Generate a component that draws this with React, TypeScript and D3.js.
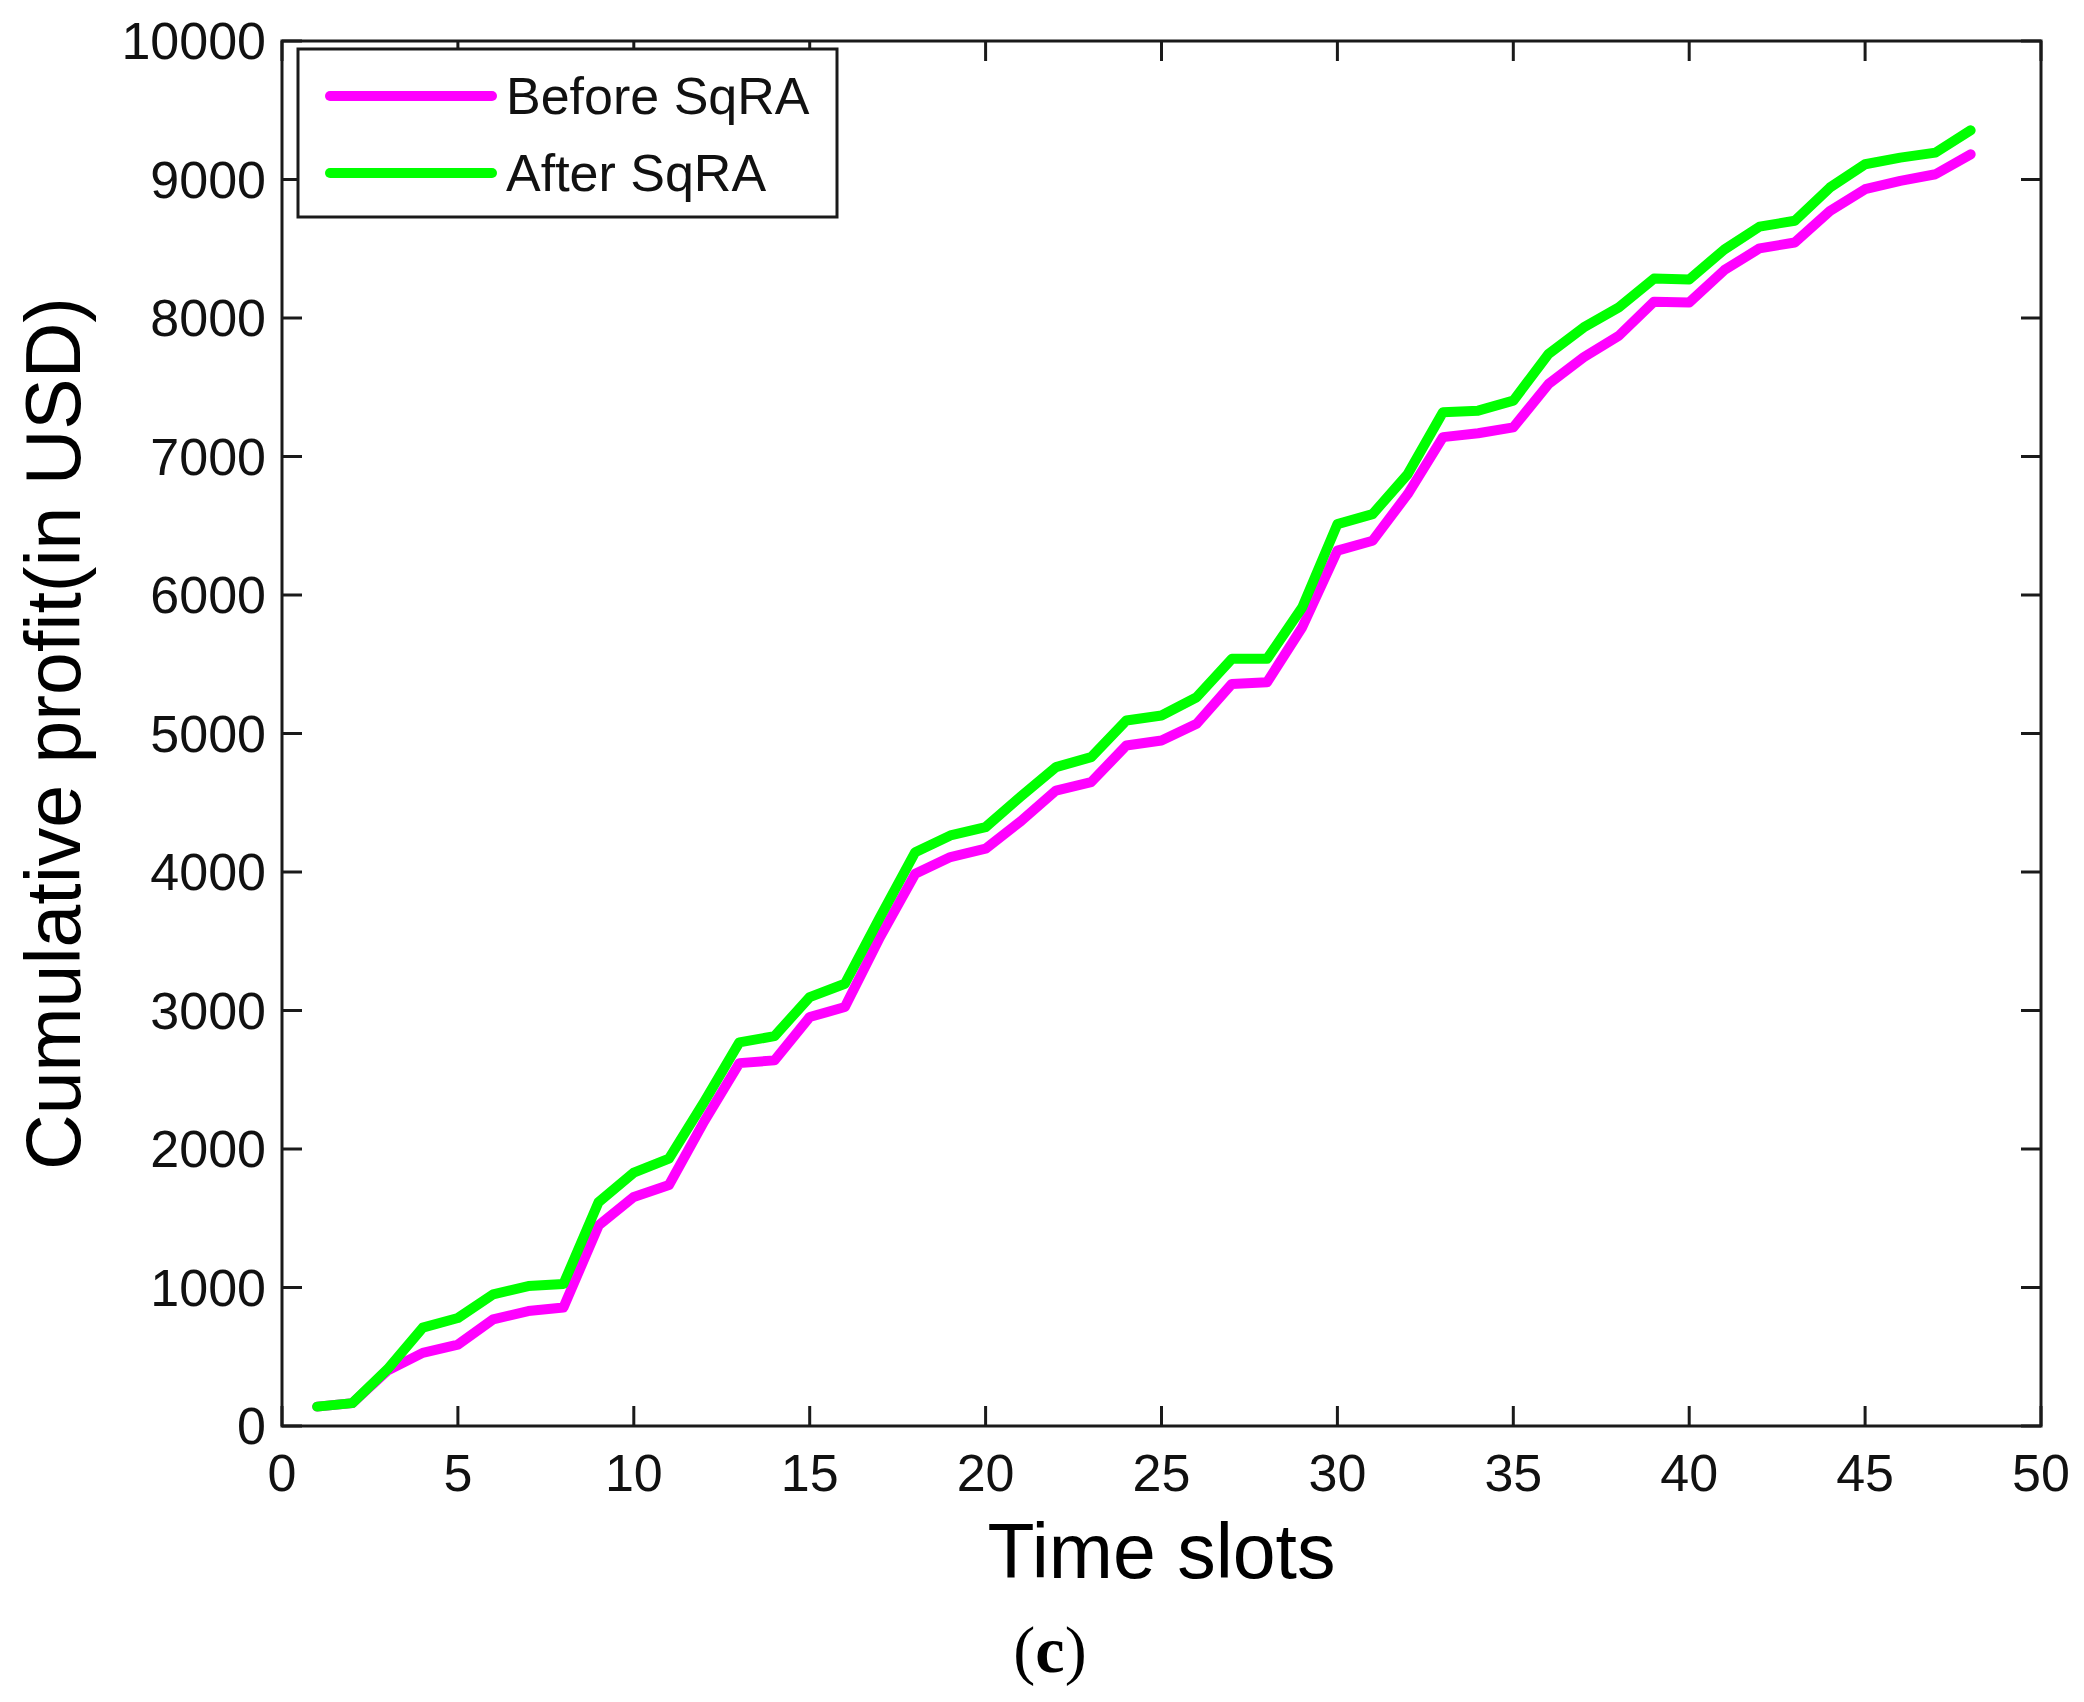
import React, { useEffect, useRef } from "react";
import * as d3 from "d3";

// time slots 1..48
const slots = [
  1, 2, 3, 4, 5, 6, 7, 8, 9, 10, 11, 12, 13, 14, 15, 16, 17, 18, 19, 20, 21, 22, 23, 24,
  25, 26, 27, 28, 29, 30, 31, 32, 33, 34, 35, 36, 37, 38, 39, 40, 41, 42, 43, 44, 45, 46, 47, 48,
];

const beforeSqRA = [
  140, 165, 400, 528, 588, 770, 830, 855, 1448, 1654, 1740, 2200, 2620, 2640, 2953, 3025,
  3530, 3987, 4108, 4168, 4366, 4588, 4649, 4913, 4949, 5070, 5358, 5370, 5767, 6320, 6392, 6729,
  7140, 7168, 7210, 7523, 7716, 7872, 8118, 8112, 8346, 8503, 8545, 8773, 8930, 8990, 9038, 9182,
];

const afterSqRA = [
  140, 165, 410, 710, 780, 950, 1010, 1025, 1617, 1830, 1930, 2340, 2770, 2815, 3097, 3193,
  3674, 4143, 4264, 4324, 4545, 4757, 4829, 5094, 5130, 5262, 5539, 5539, 5911, 6512, 6584, 6873,
  7320, 7331, 7403, 7740, 7932, 8076, 8285, 8278, 8495, 8660, 8702, 8942, 9110, 9158, 9194, 9355,
];

const xTicks = [0, 5, 10, 15, 20, 25, 30, 35, 40, 45, 50];
const yTicks = [0, 1000, 2000, 3000, 4000, 5000, 6000, 7000, 8000, 9000, 10000];

const series = [
  { name: "Before SqRA", color: "#ff00ff", values: beforeSqRA },
  { name: "After SqRA", color: "#00ff00", values: afterSqRA },
];

const W = 2084;
const H = 1702;

const App: React.FC = () => {
  const ref = useRef<SVGSVGElement | null>(null);

  useEffect(() => {
    if (!ref.current) return;
    const svg = d3.select(ref.current);
    svg.selectAll("*").remove();

    const left = 282, right = 2041, top = 41, bottom = 1426;
    const axisColor = "#1a1a1a";
    const font = "'Liberation Sans', Arial, sans-serif";

    const x = d3.scaleLinear().domain([0, 50]).range([left, right]);
    const y = d3.scaleLinear().domain([0, 10000]).range([bottom, top]);

    svg.append("rect").attr("width", W).attr("height", H).attr("fill", "#fff");

    // lines (before first, after on top)
    const line = d3
      .line<number>()
      .x((_, i) => x(slots[i]))
      .y((d) => y(d));

    series.forEach((s) => {
      svg.append("path")
        .datum(s.values)
        .attr("fill", "none")
        .attr("stroke", s.color)
        .attr("stroke-width", 10)
        .attr("stroke-linejoin", "round")
        .attr("stroke-linecap", "round")
        .attr("d", line);
    });

    // box
    svg.append("rect")
      .attr("x", left).attr("y", top)
      .attr("width", right - left).attr("height", bottom - top)
      .attr("fill", "none").attr("stroke", axisColor).attr("stroke-width", 3);

    const tl = 20;
    // x ticks (inward, bottom and top)
    xTicks.forEach((t) => {
      const px = x(t);
      svg.append("line").attr("x1", px).attr("x2", px).attr("y1", bottom).attr("y2", bottom - tl)
        .attr("stroke", axisColor).attr("stroke-width", 3);
      svg.append("line").attr("x1", px).attr("x2", px).attr("y1", top).attr("y2", top + tl)
        .attr("stroke", axisColor).attr("stroke-width", 3);
      svg.append("text")
        .attr("x", px).attr("y", 1491)
        .attr("text-anchor", "middle")
        .attr("font-family", font).attr("font-size", 52).attr("fill", "#111")
        .text(t);
    });

    // y ticks (inward, left and right)
    yTicks.forEach((t) => {
      const py = y(t);
      svg.append("line").attr("x1", left).attr("x2", left + tl).attr("y1", py).attr("y2", py)
        .attr("stroke", axisColor).attr("stroke-width", 3);
      svg.append("line").attr("x1", right).attr("x2", right - tl).attr("y1", py).attr("y2", py)
        .attr("stroke", axisColor).attr("stroke-width", 3);
      svg.append("text")
        .attr("x", 266).attr("y", py)
        .attr("text-anchor", "end")
        .attr("dominant-baseline", "central")
        .attr("font-family", font).attr("font-size", 52).attr("fill", "#111")
        .text(t);
    });

    // axis titles
    svg.append("text")
      .attr("x", (left + right) / 2).attr("y", 1578)
      .attr("text-anchor", "middle")
      .attr("font-family", font).attr("font-size", 77).attr("fill", "#000")
      .text("Time slots");

    svg.append("text")
      .attr("transform", `translate(80,${(top + bottom) / 2}) rotate(-90)`)
      .attr("text-anchor", "middle")
      .attr("font-family", font).attr("font-size", 77).attr("fill", "#000")
      .text("Cumulative profit(in USD)");

    // legend
    const lg = svg.append("g");
    lg.append("rect")
      .attr("x", 298).attr("y", 49).attr("width", 539).attr("height", 168)
      .attr("fill", "#fff").attr("stroke", axisColor).attr("stroke-width", 3);
    series.forEach((s, i) => {
      const ly = 96 + i * 77;
      lg.append("line")
        .attr("x1", 330).attr("x2", 492).attr("y1", ly).attr("y2", ly)
        .attr("stroke", s.color).attr("stroke-width", 10).attr("stroke-linecap", "round");
      lg.append("text")
        .attr("x", 506).attr("y", ly)
        .attr("dominant-baseline", "central")
        .attr("font-family", font).attr("font-size", 52).attr("fill", "#111")
        .text(s.name);
    });

    // panel label
    const cap = svg.append("text")
      .attr("x", 1050).attr("y", 1672)
      .attr("text-anchor", "middle")
      .attr("font-family", "'Liberation Serif', 'Times New Roman', serif")
      .attr("font-size", 66).attr("fill", "#000");
    cap.append("tspan").text("(");
    cap.append("tspan").attr("font-weight", "bold").text("c");
    cap.append("tspan").text(")");
  }, []);

  return (
    <>
      <style>{"body{margin:0}"}</style>
      <svg ref={ref} width={W} height={H} style={{ display: "block" }}></svg>
    </>
  );
};

export default App;
